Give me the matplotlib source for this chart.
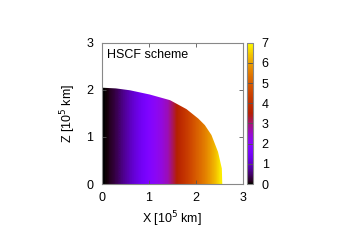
import matplotlib
matplotlib.use("Agg")
import matplotlib.pyplot as plt
import numpy as np
from matplotlib.patches import Polygon

plt.rcParams["font.family"] = ["Liberation Sans", "DejaVu Sans"]
plt.rcParams["font.size"] = 9

# colour value read across the equatorial plane (x in 1e5 km, step 0.1)
COL_X = [0.0, 0.1, 0.2, 0.3, 0.4, 0.5, 0.6, 0.7, 0.8, 0.9, 1.0, 1.1, 1.2, 1.3,
         1.4, 1.5, 1.6, 1.7, 1.8, 1.9, 2.0, 2.1, 2.2, 2.3, 2.4, 2.5, 2.6]
COL_V = [0.0, 0.05, 0.2, 0.35, 0.55, 0.75, 0.95, 1.15, 1.35, 1.55, 1.8, 2.0,
         2.2, 2.4, 2.65, 3.1, 3.55, 3.95, 4.3, 4.65, 5.0, 5.3, 5.6, 5.95,
         6.3, 6.75, 7.0]

# stellar surface (x, z), equator -> pole
SURF_X = [2.56, 2.55, 2.47, 2.33, 2.19, 2.05, 1.80, 1.45, 1.02, 0.60, 0.30, 0.0]
SURF_Z = [0.0, 0.33, 0.68, 1.04, 1.25, 1.39, 1.59, 1.78, 1.90, 1.99, 2.03, 2.045]

fig = plt.figure(figsize=(3.45, 2.41), dpi=100)
ax = fig.add_axes([0.2948, 0.2365, 0.4096, 0.5863])
cax = fig.add_axes([0.715, 0.2365, 0.0191, 0.5863])

cmap = plt.get_cmap("gnuplot")
step = COL_X[1] - COL_X[0]
img = ax.imshow(np.array([COL_V, COL_V]), cmap=cmap, vmin=0, vmax=7,
                extent=[COL_X[0] - step / 2, COL_X[-1] + step / 2, 0, 2.1],
                origin="lower", aspect="auto", interpolation="bilinear")

outline = [(0.0, 0.0)] + list(zip(SURF_X, SURF_Z))
clip = Polygon(outline, closed=True, transform=ax.transData, facecolor="none",
               edgecolor="none")
ax.add_patch(clip)
img.set_clip_path(clip)

ax.set_xlim(0, 3)
ax.set_ylim(0, 3)
ax.set_xticks([0, 1, 2, 3])
ax.set_yticks([0, 1, 2, 3])
ax.tick_params(direction="in", length=3, width=0.6, color="#555555",
               top=True, right=True, pad=6)
for s in ax.spines.values():
    s.set_color("#888888")
    s.set_linewidth(0.8)
    s.set_zorder(5)
ax.set_xlabel(r"X [10$^5$ km]", labelpad=4)
ax.set_ylabel(r"Z [10$^5$ km]", labelpad=6)
ax.text(0.04, 0.955, "HSCF scheme", transform=ax.transAxes, ha="left", va="top")

sm = matplotlib.cm.ScalarMappable(norm=matplotlib.colors.Normalize(0, 7), cmap=cmap)
cbar = fig.colorbar(sm, cax=cax, ticks=range(0, 8))
cbar.outline.set_edgecolor("#888888")
cbar.outline.set_linewidth(0.8)
cax.tick_params(direction="in", length=3, width=0.6, color="#555555",
                left=True, right=True, pad=6)

fig.savefig("out.png", dpi=100)
